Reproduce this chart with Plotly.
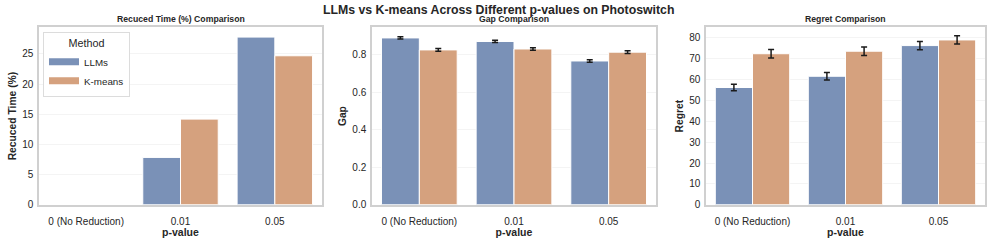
import plotly.graph_objects as go

categories = ["0 (No Reduction)", "0.01", "0.05"]
methods = ["LLMs", "K-means"]

time_llm = [0, 7.85, 27.8]
time_km = [0, 14.2, 24.7]

gap_llm = [0.890, 0.871, 0.767]
gap_km = [0.826, 0.831, 0.814]
gap_llm_err = [0.006, 0.006, 0.007]
gap_km_err = [0.007, 0.007, 0.007]

regret_llm = [56.2, 61.6, 76.3]
regret_km = [72.4, 73.6, 79.0]
regret_llm_err = [1.6, 1.8, 2.0]
regret_km_err = [2.0, 2.0, 2.0]

colors = {"LLMs": "#7a91b7", "K-means": "#d5a17e"}
FONT = "Liberation Sans, Arial, sans-serif"
TXT = "#262626"

fig = go.Figure()

def add_bar(name, x, y, err, xa, ya):
    kw = dict(
        x=x, y=y, name=name, legendgroup=name, showlegend=False,
        marker=dict(color=colors[name], line=dict(color="white", width=1)),
        xaxis=xa, yaxis=ya, offsetgroup=name,
    )
    if err is not None:
        kw["error_y"] = dict(type="data", array=err, visible=True,
                             color="#1a1a1a", thickness=1.5, width=3)
    fig.add_trace(go.Bar(**kw))

add_bar("LLMs", categories, time_llm, None, "x", "y")
add_bar("K-means", categories, time_km, None, "x", "y")
add_bar("LLMs", categories, gap_llm, gap_llm_err, "x2", "y2")
add_bar("K-means", categories, gap_km, gap_km_err, "x2", "y2")
add_bar("LLMs", categories, regret_llm, regret_llm_err, "x3", "y3")
add_bar("K-means", categories, regret_km, regret_km_err, "x3", "y3")

# legend entries (rectangular patches)
for m in methods:
    fig.add_trace(go.Scatter(
        x=[None], y=[None], mode="lines", name=m, legendgroup=m,
        line=dict(color=colors[m], width=7), showlegend=True,
        xaxis="x", yaxis="y",
    ))

W, H = 996, 246
doms = [(39, 322), (372, 656), (706, 985)]
ydom = [(H - 209) / H, (H - 28) / H]

xcommon = dict(
    showline=True, mirror=True, linecolor="#d0d0d0", linewidth=1.5,
    showgrid=False, ticks="", tickfont=dict(size=10, color=TXT, family=FONT),
    ticklabelstandoff=6,
    range=[-0.5, 2.5], type="category",
    title=dict(text="<b>p-value</b>", font=dict(size=10.5, color=TXT, family=FONT), standoff=2),
)
ycommon = dict(
    showline=True, mirror=True, linecolor="#d0d0d0", linewidth=1.5,
    showgrid=True, gridcolor="#f4f4f4", gridwidth=1, zeroline=False, ticks="",
    tickfont=dict(size=10, color=TXT, family=FONT),
    ticklabelstandoff=2,
)

layout = dict(
    width=W, height=H,
    margin=dict(l=0, r=0, t=0, b=0),
    paper_bgcolor="white", plot_bgcolor="white",
    barmode="group", bargap=0.2, bargroupgap=0,
    font=dict(family=FONT, color=TXT),
    showlegend=True,
    legend=dict(
        x=(43) / W, y=(H - 33) / H, xanchor="left", yanchor="top",
        bgcolor="white", bordercolor="#dcdcdc", borderwidth=1,
        font=dict(size=9.8, color=TXT, family=FONT),
        title=dict(text="Method", side="top center", font=dict(size=10.8, color=TXT, family=FONT)),
        tracegroupgap=0, itemwidth=30,
    ),
)

ycfg = [
    dict(range=[0, 29.4], tickvals=[0, 5, 10, 15, 20, 25], title_text="<b>Recuced Time (%)</b>"),
    dict(range=[0, 0.946], tickvals=[0, 0.2, 0.4, 0.6, 0.8], ticktext=["0.0", "0.2", "0.4", "0.6", "0.8"], title_text="<b>Gap</b>"),
    dict(range=[0, 85.0], tickvals=[0, 10, 20, 30, 40, 50, 60, 70, 80], title_text="<b>Regret</b>"),
]

for i in range(3):
    sx = "" if i == 0 else str(i + 1)
    xa = dict(xcommon)
    xa["domain"] = [doms[i][0] / W, doms[i][1] / W]
    xa["anchor"] = "y" + sx
    ya = dict(ycommon)
    ya.update(ycfg[i])
    ya["domain"] = ydom
    ya["anchor"] = "x" + sx
    ya["title_font"] = dict(size=10.3, color=TXT, family=FONT)
    ya["title_standoff"] = 4
    layout["xaxis" + sx] = xa
    layout["yaxis" + sx] = ya

titles = ["Recuced Time (%) Comparison", "Gap Comparison", "Regret Comparison"]
ann = []
for i, t in enumerate(titles):
    ann.append(dict(
        text="<b>" + t + "</b>", x=(doms[i][0] + doms[i][1]) / 2 / W, y=(H - 19) / H,
        xref="paper", yref="paper", xanchor="center", yanchor="middle",
        showarrow=False, font=dict(size=8.7, color=TXT, family=FONT),
    ))
ann.append(dict(
    text="<b>LLMs vs K-means Across Different p-values on Photoswitch</b>",
    x=498 / W, y=(H - 10) / H, xref="paper", yref="paper",
    xanchor="center", yanchor="middle", showarrow=False,
    font=dict(size=12.3, color=TXT, family=FONT),
))
layout["annotations"] = ann

fig.update_layout(**layout)
fig.write_html(
    "out.html",
    config={"displayModeBar": False},
    post_script="document.body.style.margin='0';document.body.style.padding='0';",
)
